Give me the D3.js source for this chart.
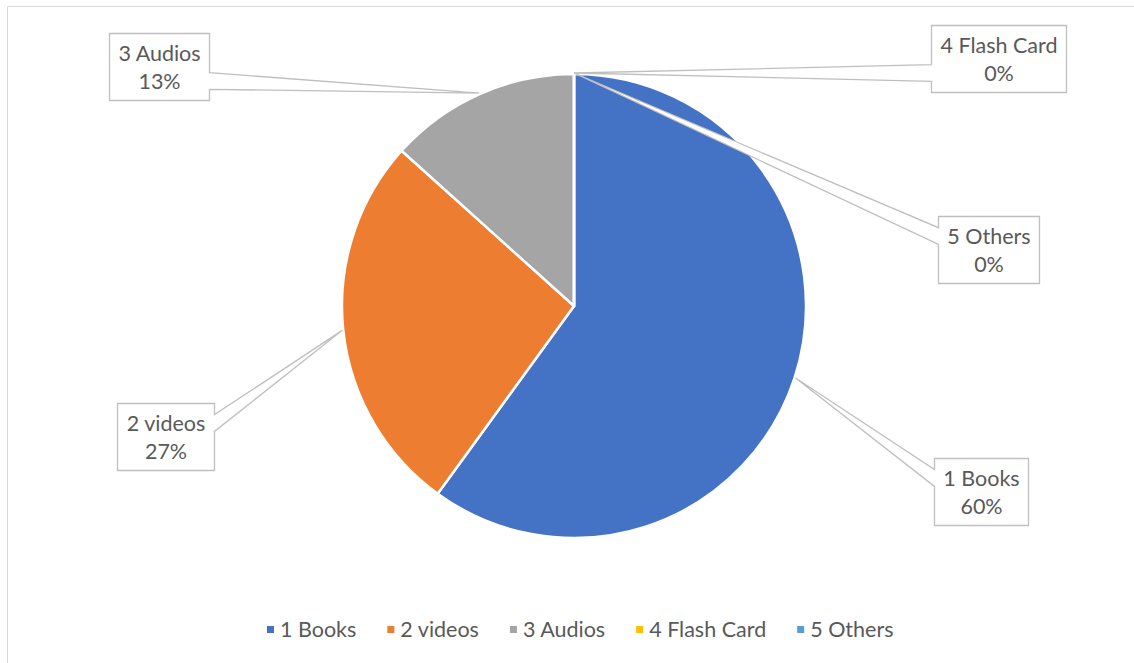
<!DOCTYPE html>
<html>
<head>
<meta charset="utf-8">
<script src="https://cdn.jsdelivr.net/npm/d3@7"></script>
<style>
  html, body { margin: 0; padding: 0; background: #fff; }
  svg { display: block; }
  text { font-family: Lato, "Open Sans", sans-serif; }
</style>
</head>
<body>
<svg id="chart" width="1134" height="663"></svg>
<script>
// ---- data ----
const categories = ["1 Books", "2 videos", "3 Audios", "4 Flash Card", "5 Others"];
const values = [45, 20, 10, 0, 0];
const percentLabels = ["60%", "27%", "13%", "0%", "0%"];
const colors = ["#4472C4", "#ED7D31", "#A5A5A5", "#FFC000", "#5B9BD5"];

// ---- layout (label box top-left corners, as placed in the original) ----
const labelBoxes = [[934, 458], [117, 403], [109, 33], [931, 25], [938, 216]];

const W = 1134, H = 663;
const cx = 574, cy = 306, R = 232;
const fontSize = 21.5;
const textColor = "#595959";

const svg = d3.select("#chart");

// chart area border
svg.append("rect")
  .attr("x", 7.5).attr("y", 6.5)
  .attr("width", W + 20).attr("height", H + 20)
  .attr("fill", "none").attr("stroke", "#d9d9d9").attr("stroke-width", 1);

const pie = d3.pie().sort(null).value(d => d.value);
const data = categories.map((c, i) => ({ name: c, value: values[i], pct: percentLabels[i], color: colors[i], box: labelBoxes[i] }));
const arcs = pie(data);
const arc = d3.arc().innerRadius(0).outerRadius(R);

const g = svg.append("g").attr("transform", `translate(${cx},${cy})`);
g.selectAll("path.slice")
  .data(arcs)
  .join("path")
  .attr("class", "slice")
  .attr("d", arc)
  .attr("fill", d => d.data.color)
  .attr("stroke", "#fff")
  .attr("stroke-width", 2.5)
  .attr("stroke-linejoin", "round");

// callout labels (wedge rectangle callouts)
const tipArc = d3.arc().innerRadius(R + 1).outerRadius(R + 1);
const pad = 9, boxH = 67;

const labels = svg.append("g");
arcs.forEach(a => {
  const [bx, by] = a.data.box;
  const lg = labels.append("g");
  const t1 = lg.append("text").attr("font-size", fontSize).attr("fill", textColor)
    .attr("text-anchor", "middle").text(a.data.name);
  const t2 = lg.append("text").attr("font-size", fontSize).attr("fill", textColor)
    .attr("text-anchor", "middle").text(a.data.pct);
  const tw = Math.max(t1.node().getComputedTextLength(), t2.node().getComputedTextLength());
  const w = Math.round(tw + 2 * pad), h = boxH;
  const l = bx + 0.5, t = by + 0.5, r = l + w, b = t + h;
  const hc = l + w / 2, vc = t + h / 2;
  const c = tipArc.centroid(a);
  const tx = cx + c[0], ty = cy + c[1];
  const dxPos = tx - hc, dyPos = ty - vc;
  const dq = dxPos * h / w;
  const horizSide = Math.abs(dyPos) > Math.abs(dq); // tip on top/bottom side
  const x1 = l + w * (dxPos > 0 ? 7 : 2) / 12, x2 = l + w * (dxPos > 0 ? 10 : 5) / 12;
  const y1 = t + h * (dyPos > 0 ? 7 : 2) / 12, y2 = t + h * (dyPos > 0 ? 10 : 5) / 12;
  const p = d3.path();
  p.moveTo(l, t);
  if (horizSide && dyPos < 0) { p.lineTo(x1, t); p.lineTo(tx, ty); p.lineTo(x2, t); }
  p.lineTo(r, t);
  if (!horizSide && dxPos > 0) { p.lineTo(r, y1); p.lineTo(tx, ty); p.lineTo(r, y2); }
  p.lineTo(r, b);
  if (horizSide && dyPos > 0) { p.lineTo(x2, b); p.lineTo(tx, ty); p.lineTo(x1, b); }
  p.lineTo(l, b);
  if (!horizSide && dxPos < 0) { p.lineTo(l, y2); p.lineTo(tx, ty); p.lineTo(l, y1); }
  p.closePath();
  lg.insert("path", "text").attr("d", p.toString())
    .attr("fill", "#fff").attr("stroke", "#bfbfbf").attr("stroke-width", 1.3)
    .attr("stroke-linejoin", "miter");
  t1.attr("x", hc).attr("y", by + 28);
  t2.attr("x", hc).attr("y", by + 56);
});

// legend
const legend = svg.append("g");
let x = 0;
const gap = 31;
data.forEach((d, i) => {
  const ig = legend.append("g");
  ig.append("rect").attr("x", x).attr("y", -11).attr("width", 7).attr("height", 7).attr("fill", d.color);
  const tt = ig.append("text").attr("x", x + 13).attr("y", 0).attr("font-size", fontSize)
    .attr("fill", textColor).text(d.name);
  x += 13 + tt.node().getComputedTextLength() + gap;
});
const legendW = x - gap;
legend.attr("transform", `translate(${Math.round(580 - legendW / 2)},637)`);
</script>
</body>
</html>
